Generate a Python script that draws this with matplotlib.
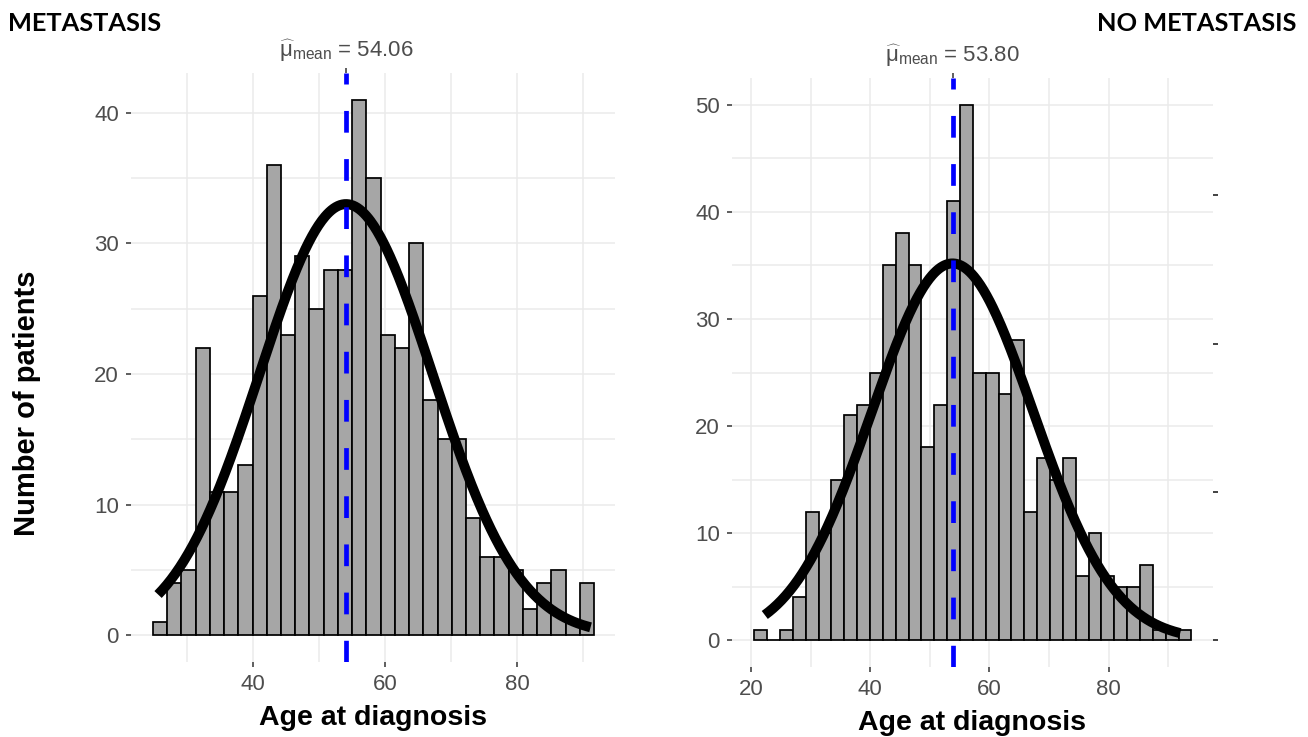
import numpy as np
import matplotlib
matplotlib.use("Agg")
import matplotlib.pyplot as plt
from matplotlib.ticker import FixedLocator

# ---------------- data ----------------
left_counts = [1, 4, 5, 22, 11, 11, 13, 26, 36, 23, 29, 25, 28, 28, 41, 35,
               23, 22, 30, 18, 15, 15, 9, 6, 6, 5, 2, 4, 5, 1, 4]
left_bin_start = 24.82
left_bin_width = 2.155
left_mean = 54.06
left_sd = 13.1
left_curve_range = [25.6, 91.1]

right_counts = [1, 0, 1, 4, 12, 10, 15, 21, 22, 25, 35, 38, 35, 18, 22, 41, 50,
                25, 25, 23, 28, 12, 17, 15, 17, 6, 10, 6, 5, 5, 7, 1, 1, 1]
right_bin_start = 20.55
right_bin_width = 2.157
right_mean = 53.80
right_sd = 13.55
right_curve_range = [22.3, 92.0]
right_prop_ticks = [0.0, 0.025, 0.05, 0.075]

left_title = "METASTASIS"
right_title = "NO METASTASIS"
x_label = "Age at diagnosis"
y_label = "Number of patients"

# ---------------- style ----------------
plt.rcParams['font.family'] = ['Liberation Sans', 'DejaVu Sans']
plt.rcParams['mathtext.fontset'] = 'custom'
plt.rcParams['mathtext.rm'] = 'Liberation Sans'
plt.rcParams['mathtext.it'] = 'Liberation Sans:italic'
plt.rcParams['mathtext.bf'] = 'Liberation Sans:bold'

W, H = 1308, 737
fig = plt.figure(figsize=(W / 100, H / 100), dpi=100)
fig.patch.set_facecolor('white')

TXT = '#4D4D4D'
GRID = '#EBEBEB'


def px_axes(x0, y0, x1, y1):
    return fig.add_axes([x0 / W, 1 - y1 / H, (x1 - x0) / W, (y1 - y0) / H])


def draw_panel(ax, counts, start, bw, mean, sd, crange, xlim, ylim,
               xmajor, xminor, ymajor, yminor):
    counts = np.asarray(counts, dtype=float)
    edges = start + bw * np.arange(len(counts))
    n = counts.sum()
    ax.set_xlim(*xlim)
    ax.set_ylim(*ylim)
    ax.set_axisbelow(True)
    ax.xaxis.set_major_locator(FixedLocator(xmajor))
    ax.xaxis.set_minor_locator(FixedLocator(xminor))
    ax.yaxis.set_major_locator(FixedLocator(ymajor))
    ax.yaxis.set_minor_locator(FixedLocator(yminor))
    ax.grid(True, which='both', color=GRID, lw=1.1)
    for s in ax.spines.values():
        s.set_visible(False)
    ax.tick_params(axis='both', which='major', length=3.8, width=1.1,
                   color='#333333', labelcolor=TXT, labelsize=16, pad=5)
    ax.tick_params(axis='both', which='minor', length=0)
    ax.bar(edges, counts, width=bw, align='edge', color='#A6A6A6',
           edgecolor='black', linewidth=1.25, zorder=2)
    xs = np.linspace(crange[0], crange[1], 400)
    ys = n * bw * np.exp(-0.5 * ((xs - mean) / sd) ** 2) / (sd * np.sqrt(2 * np.pi))
    ax.plot(xs, ys, color='black', lw=7.2, solid_capstyle='butt', zorder=3)
    ax.axvline(mean, color='#0000FF', lw=3.4, dashes=(4.6, 5.6), zorder=4)
    sec = ax.secondary_xaxis('top')
    sec.set_xticks([mean])
    sec.set_xticklabels([r'$\widehat{\mathrm{\mu}}_{\mathrm{mean}}$' + ' = %.2f' % mean])
    for s in sec.spines.values():
        s.set_visible(False)
    sec.tick_params(length=3.8, width=1.1, color='#333333', labelcolor=TXT,
                    labelsize=16, pad=3)
    ax.set_xlabel(x_label, fontsize=20.5, fontweight='bold', color='black',
                  labelpad=7)
    return sec


# left panel
axL = px_axes(131, 73, 615, 662)
draw_panel(axL, left_counts, left_bin_start, left_bin_width, left_mean,
           left_sd, left_curve_range, (21.5, 94.8), (-2.05, 43.05),
           [40, 60, 80], [30, 50, 70, 90], [0, 10, 20, 30, 40],
           [5, 15, 25, 35])

# right panel
axR = px_axes(732, 78, 1213, 667)
draw_panel(axR, right_counts, right_bin_start, right_bin_width, right_mean,
           right_sd, right_curve_range, (16.8, 97.5), (-2.5, 52.5),
           [20, 40, 60, 80], [30, 50, 70, 90], [0, 10, 20, 30, 40, 50],
           [5, 15, 25, 35, 45])
nR = float(np.sum(right_counts))
secR = axR.secondary_yaxis('right', functions=(lambda c: c / nR, lambda p: p * nR))
secR.set_yticks(right_prop_ticks)
secR.set_yticklabels([''] * len(right_prop_ticks))
for s in secR.spines.values():
    s.set_visible(False)
secR.tick_params(length=3.5, width=1.3, color='#333333')

# labels
fig.text(27 / W, 1 - 403 / H, y_label, rotation=90, fontsize=21,
         fontweight='bold', ha='center', va='center')
fig.text(8 / W, 1 - 12 / H, left_title, fontsize=18.3, fontweight='bold',
         family=['Lato', 'DejaVu Sans'], ha='left', va='top')
fig.text(1296 / W, 1 - 12 / H, right_title, fontsize=18.3, fontweight='bold',
         family=['Lato', 'DejaVu Sans'], ha='right', va='top')

fig.savefig('out.png', dpi=100, facecolor='white')
